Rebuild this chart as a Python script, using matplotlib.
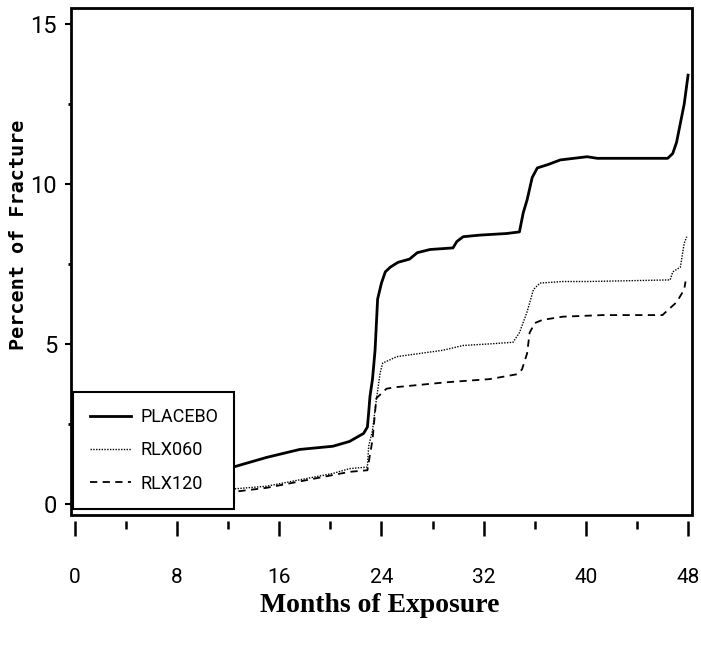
import numpy as np
import matplotlib
matplotlib.use("Agg")
import matplotlib.pyplot as plt
from matplotlib.patches import Rectangle

# Months of exposure vs. cumulative percent of fracture
placebo_x = [0, 2.0, 2.4, 4.3, 6.7, 9.8, 11.4, 12.4, 15.0, 17.6, 20.2, 21.5, 22.6, 22.9,
             23.0, 23.1, 23.3, 23.5, 23.7, 24.0, 24.3, 24.7, 25.3, 26.2, 26.8, 27.8,
             29.6, 29.9, 30.4, 31.7, 33.8, 34.8, 35.1, 35.4, 35.8, 36.2, 37.0, 38.0,
             40.1, 40.9, 46.4, 46.8, 47.1, 47.4, 47.7, 48.0]
placebo_y = [0, 0, 0.1, 0.25, 0.5, 0.75, 0.85, 1.15, 1.45, 1.7, 1.8, 1.95, 2.2, 2.4,
             2.85, 3.35, 3.9, 4.8, 6.4, 6.9, 7.25, 7.4, 7.55, 7.65, 7.85, 7.95,
             8.0, 8.2, 8.35, 8.4, 8.45, 8.5, 9.1, 9.5, 10.2, 10.5, 10.6, 10.75,
             10.85, 10.8, 10.8, 10.95, 11.3, 11.9, 12.5, 13.4]

rlx060_x = [0, 2.0, 3.0, 5.0, 7.5, 10.0, 11.9, 15.0, 17.6, 20.2, 21.5, 22.9, 23.0,
            23.3, 23.6, 23.9, 24.1, 25.2, 27.0, 28.8, 30.4, 32.5, 34.3, 34.8,
            35.4, 35.9, 36.4, 38.2, 40.3, 46.6, 46.8, 47.4, 47.7, 47.9]
rlx060_y = [0, 0, 0.1, 0.15, 0.2, 0.3, 0.45, 0.55, 0.75, 0.95, 1.1, 1.15, 1.8,
            2.3, 3.25, 4.1, 4.4, 4.6, 4.7, 4.8, 4.95, 5.0, 5.05, 5.35,
            6.0, 6.7, 6.9, 6.95, 6.95, 7.0, 7.25, 7.4, 8.15, 8.35]

rlx120_x = [0, 2.5, 4.0, 6.0, 8.0, 10.0, 11.9, 15.0, 17.6, 20.2, 21.5, 22.9, 23.3,
            23.6, 24.4, 25.2, 29.1, 32.5, 34.6, 35.0, 35.4, 35.6, 36.0, 36.6, 38.2,
            41.3, 46.0, 46.4, 47.1, 47.7, 47.8]
rlx120_y = [0, 0, 0.1, 0.15, 0.2, 0.25, 0.35, 0.5, 0.7, 0.9, 1.0, 1.05, 2.0,
            3.3, 3.6, 3.65, 3.8, 3.9, 4.05, 4.2, 4.7, 5.35, 5.65, 5.75, 5.85,
            5.9, 5.9, 6.05, 6.3, 6.7, 6.95]

x_ticks = [0, 8, 16, 24, 32, 40, 48]
x_minor = [4, 12, 20, 28, 36, 44]
y_ticks = [0, 5, 10, 15]
y_minor = [2.5, 7.5, 12.5]

narrow = ['Liberation Sans Narrow', 'Roboto', 'DejaVu Sans']

fig = plt.figure(figsize=(7.01, 6.48), dpi=100)
ax = fig.add_axes([0.1013, 0.2052, 0.8857, 0.7825])

ax.plot(rlx060_x, rlx060_y, color='black', lw=1.0, ls=(0, (1, 1)), label='RLX060')
ax.plot(rlx120_x, rlx120_y, color='black', lw=1.3, ls=(0, (4, 3)), label='RLX120')
ax.plot(placebo_x, placebo_y, color='black', lw=2.0, label='PLACEBO')

ax.set_xlim(-0.3, 48.3)
ax.set_ylim(-0.35, 15.5)

# box drawn by hand so the x ticks can sit a little below it
for s in ax.spines.values():
    s.set_visible(False)
ax.add_patch(Rectangle((0, 0), 1, 1, transform=ax.transAxes, fill=False,
                       lw=2.0, ec='black', clip_on=False, zorder=5))
ax.spines['bottom'].set_position(('outward', 4))

ax.set_xticks(x_ticks)
ax.set_xticks(x_minor, minor=True)
ax.set_yticks(y_ticks)
ax.set_yticks(y_minor, minor=True)
ax.set_xticklabels([str(v) for v in x_ticks], family=narrow, fontsize=15)
ax.set_yticklabels([str(v) for v in y_ticks], family=narrow, fontsize=17)
ax.tick_params(axis='x', which='major', length=11, width=1.8, pad=23)
ax.tick_params(axis='x', which='minor', length=6, width=1.8)
ax.tick_params(axis='y', which='major', length=4, width=1.5, pad=6)
ax.tick_params(axis='y', which='minor', length=2.5, width=2)

handles, labels = ax.get_legend_handles_labels()
order = [2, 0, 1]
leg = ax.legend([handles[i] for i in order], [labels[i] for i in order],
                loc='lower left', bbox_to_anchor=(0.004, 0.012),
                prop={'family': narrow, 'size': 13}, frameon=True,
                fancybox=False, handlelength=2.3, handletextpad=0.5,
                borderpad=0.9, labelspacing=0.85, borderaxespad=0)
leg.get_frame().set_edgecolor('black')
leg.get_frame().set_linewidth(1.5)
leg.get_frame().set_alpha(1)
leg.set_zorder(6)

fig.text(0.027, 0.637, 'Percent of Fracture', rotation=90, ha='center', va='center',
         family='DejaVu Sans Mono', fontsize=14.5, fontweight='bold')
fig.text(0.542, 0.066, 'Months of Exposure', ha='center', va='center',
         family='Liberation Serif', fontsize=20, fontweight='bold')

fig.savefig('out.png', dpi=100)
